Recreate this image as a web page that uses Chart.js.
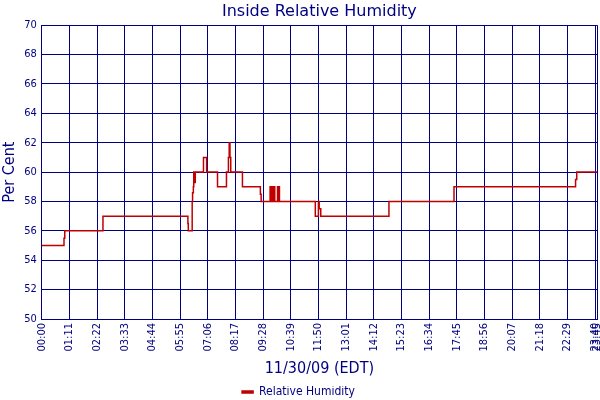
<!DOCTYPE html>
<html>
<head>
<meta charset="utf-8">
<script src="https://cdn.jsdelivr.net/npm/chart.js@4/dist/chart.umd.min.js"></script>
<style>
    html, body { margin: 0; padding: 0; background: #fff; }
    #wrap { width: 600px; height: 400px; }
</style>
</head>
<body>
<div id="wrap"><canvas id="humidity-chart"></canvas></div>
<script>
// minutes after midnight where the reading changes, and the reading from then on
const minutes = [0, 57, 59, 157, 375, 376, 386, 387, 389, 390, 391, 392, 393, 394,
    415, 423, 451, 474, 479, 481, 483, 485, 515, 561, 563,
    586, 587, 588, 589, 590, 591, 592, 594, 596, 598, 605, 606, 609, 610,
    702, 710, 712, 716, 891, 1058, 1370, 1373, 1425];
const humidity = [55, 55.5, 56, 57, 56.5, 56, 58, 58.6, 59, 60, 59.5, 60, 59.3, 60,
    61, 60, 59, 60, 61, 62, 61, 60, 59, 58.5, 58,
    59, 58, 59, 58, 59, 58, 59, 58, 59, 58, 59, 58, 59, 58,
    57, 58, 57.5, 57, 58, 59, 59.5, 60, 60];

const tickLabels = ['00:00', '01:11', '02:22', '03:33', '04:44', '05:55', '07:06', '08:17',
    '09:28', '10:39', '11:50', '13:01', '14:12', '15:23', '16:34', '17:45', '18:56',
    '20:07', '21:18', '22:29', '23:40', '23:45'];

const navy = '#000080';
const red = '#c00000';

function toMinutes(label) {
    const parts = label.split(':');
    return parseInt(parts[0]) * 60 + parseInt(parts[1]);
}

function toLabel(value) {
    const h = Math.floor(value / 60);
    const m = Math.round(value % 60);
    return String(h).padStart(2, '0') + ':' + String(m).padStart(2, '0');
}

const tickMinutes = tickLabels.map(toMinutes);

function createChart() {
    const ctx = document.getElementById('humidity-chart').getContext('2d');
    return new Chart(ctx, {
        type: 'line',
        data: {
            datasets: [
                {
                    label: 'Relative Humidity',
                    data: minutes.map((m, i) => ({ x: m, y: humidity[i] })),
                    borderColor: red,
                    backgroundColor: red,
                    borderWidth: 1.5,
                    pointRadius: 0,
                    stepped: 'before',
                    fill: false
                }
            ]
        },
        options: {
            responsive: true,
            maintainAspectRatio: false,
            animation: false,
            // the legend keeps 10px spare below itself, pull it back down
            layout: { padding: { left: 0, right: 3, top: 2, bottom: -8 } },
            plugins: {
                title: {
                    display: true,
                    text: 'Inside Relative Humidity',
                    color: navy,
                    fullSize: false,
                    font: { family: 'DejaVu Sans', size: 16, weight: 'normal' },
                    padding: { top: 0, bottom: 4 }
                },
                legend: {
                    position: 'bottom',
                    labels: {
                        color: navy,
                        boxWidth: 11,
                        boxHeight: 2,
                        padding: 0,
                        font: { family: 'DejaVu Sans Condensed', size: 12 }
                    }
                },
                tooltip: { enabled: false }
            },
            scales: {
                x: {
                    type: 'linear',
                    min: tickMinutes[0],
                    max: tickMinutes[tickMinutes.length - 1],
                    afterBuildTicks: axis => {
                        axis.ticks = tickMinutes.map(v => ({ value: v }));
                    },
                    afterFit: axis => {
                        axis.paddingLeft = 0;
                        axis.paddingRight = 0;
                        axis.height = 67;
                    },
                    ticks: {
                        color: navy,
                        autoSkip: false,
                        minRotation: 90,
                        maxRotation: 90,
                        padding: 4,
                        font: { family: 'DejaVu Sans Condensed', size: 11 },
                        callback: value => toLabel(value)
                    },
                    grid: { color: navy, lineWidth: 1, drawTicks: false },
                    border: { color: navy, width: 1 },
                    title: {
                        display: true,
                        text: '11/30/09 (EDT)',
                        color: navy,
                        font: { family: 'DejaVu Sans Condensed', size: 16 },
                        padding: { top: 2, bottom: 8 }
                    }
                },
                y: {
                    min: 50,
                    max: 70,
                    ticks: {
                        stepSize: 2,
                        color: navy,
                        padding: 5,
                        font: { family: 'DejaVu Sans Condensed', size: 11 }
                    },
                    grid: { color: navy, lineWidth: 1, drawTicks: false },
                    border: { color: navy, width: 1 },
                    title: {
                        display: true,
                        text: 'Per Cent',
                        color: navy,
                        font: { family: 'DejaVu Sans Condensed', size: 16 },
                        padding: { top: 0, bottom: 0 }
                    }
                }
            }
        }
    });
}

createChart();
</script>
</body>
</html>
